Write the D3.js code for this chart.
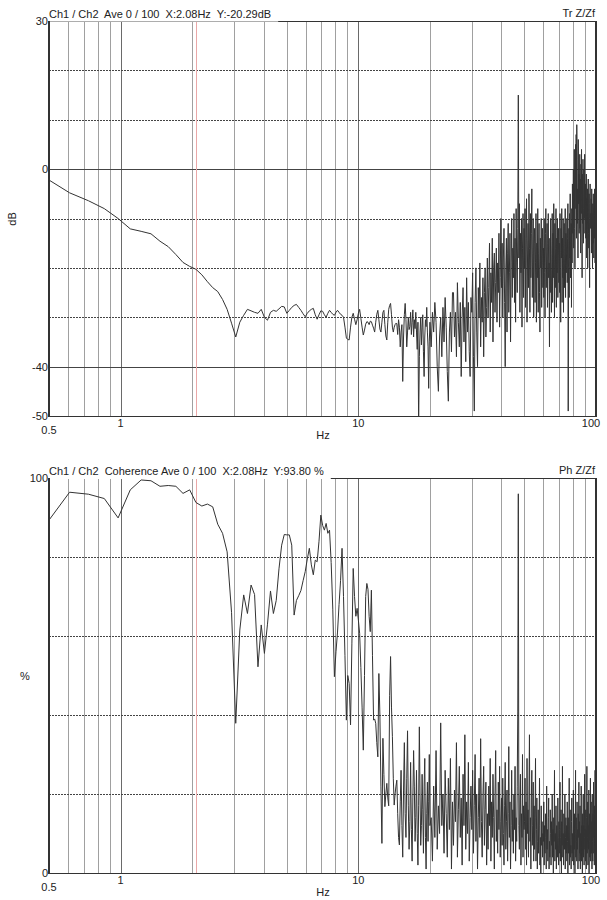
<!DOCTYPE html>
<html>
<head>
<meta charset="utf-8">
<script src="https://cdn.jsdelivr.net/npm/d3@7"></script>
<style>
  body { margin: 0; background: #fff; }
  svg { display: block; font-family: "Liberation Sans", Arial, sans-serif; font-size: 11px; }
  text { white-space: pre; fill: #222; }
</style>
</head>
<body>
<svg id="chart" width="607" height="900"></svg>
<script>
// FFT line spacing and which lines are plotted
const DF = 1000 / 8192;                 // Hz per line
const LOW_BIN0 = 4;                     // lines 4..164 (0.49 - 20 Hz), every line
const HIGH_BIN0 = 166, HIGH_STEP = 2;   // lines 166..820 (20 - 100 Hz), every 2nd line
const CURSOR_BIN = 17;                  // 2.08 Hz

// transfer magnitude, dB
const magLow = [
  -1.9, -4.8, -6.4, -8.0, -10.0, -12.1, -12.6, -13.1, -14.6, -15.7,
  -17.3, -18.9, -19.7, -20.29, -21.4, -22.8, -24.0, -24.8, -26.4, -28.4,
  -31.2, -34.0, -31.0, -29.6, -28.4, -28.7, -29.0, -29.2, -28.4, -30.0,
  -30.6, -29.0, -28.6, -28.8, -28.3, -27.8, -27.9, -29.2, -28.6, -28.0,
  -27.6, -27.4, -28.0, -28.6, -29.3, -29.9, -29.2, -28.7, -28.4, -28.2,
  -29.5, -30.4, -29.5, -28.7, -28.8, -29.5, -30.0, -29.2, -28.6, -29.0,
  -29.4, -29.6, -29.0, -28.6, -29.0, -29.4, -29.6, -30.0, -32.0, -34.2,
  -34.5, -34.6, -32.0, -30.0, -29.2, -30.4, -31.5, -30.5, -29.2, -28.4,
  -30.2, -32.0, -33.6, -32.6, -31.4, -30.9, -31.0, -31.5, -30.8, -30.9,
  -31.6, -32.2, -33.0, -31.0, -29.4, -28.6, -30.5, -32.4, -33.0, -31.0,
  -29.0, -28.6, -31.5, -33.8, -34.6, -31.0, -28.4, -27.6, -27.2, -29.5,
  -32.0, -33.0, -32.0, -31.5, -31.2, -31.3, -33.5, -30.5, -32.0, -36.0,
  -33.0, -31.5, -43.0, -34.0, -29.5, -27.2, -30.5, -36.0, -33.0, -30.0,
  -32.5, -31.9, -29.0, -33.5, -31.0, -28.5, -34.0, -30.5, -32.3, -29.0,
  -33.0, -36.5, -31.0, -52.0, -38.0, -33.0, -30.0, -35.6, -32.0, -29.5,
  -37.0, -42.0, -34.0, -30.5, -31.9, -28.0, -33.0, -36.0, -44.4, -35.0,
  -31.0
];
const magHigh = [
  // 20-25 Hz
  -36, -29, -33, -27, -31, -40, -45, -34, -30, -38, -28, -35, -26, -32, -41, -47, -33, -29, -37, -25,
  // 25-30 Hz
  -25, -34, -29, -38, -23, -31, -36, -27, -42, -30, -24, -35, -28, -39, -22, -33, -27, -37, -42, -26,
  // 30-35 Hz
  -29, -21, -38, -49, -27, -20, -33, -40, -24, -30, -19, -36, -26, -31, -22, -38, -25, -20, -34, -28,
  // 35-40 Hz
  -18, -30, -24, -15, -33, -21, -27, -14, -35, -20, -17, -29, -23, -16, -31, -19, -25, -13, -32, -22, -10,
  // 40-45 Hz
  -24, -15, -30, -18, -12, -27, -40, -20, -14, -33, -17, -11, -29, -21, -13, -35, -19, -10, -26, -16,
  // 45-50 Hz
  -22, -9, -27, -14, -31, -8, -19, -25, -12, 15, -18, -7, -29, -13, -21, -10, -32, -16, -9, -26, -12,
  // 50-55 Hz
  -20, -8, -28, -14, -6, -31, -18, -11, -24, -5, -16, -29, -9, -22, -13, -4, -26, -17, -10, -30, -15,
  // 55-60 Hz
  -12, -27, -19, -9, -31, -15, -22, -8, -29, -17, -11, -25, -33, -14, -20, -10, -28, -18, -12, -24,
  // 60-65 Hz
  -16, -26, -10, -21, -30, -13, -8, -24, -18, -11, -28, -15, -9, -22, -19, -36, -14, -25, -10, -20, -29,
  // 65-70 Hz
  -17, -9, -27, -13, -22, -7, -19, -30, -11, -24, -16, -8, -28, -14, -21, -10, -26, -18, -12, -23,
  // 70-75 Hz
  -15, -25, -9, -20, -31, -12, -18, -8, -27, -14, -22, -10, -29, -16, -11, -24, -19, -8, -26, -13, -21,
  // 75-80 Hz
  -17, -10, -23, -14, -7, -49, -20, -12, -26, -9, -18, -5, -22, -15, -11, -28, -8, -19, -3, -13,
  // 80-85 Hz
  -10, 0, -16, -6, 4, -12, -20, -3, 5, -8, 7, -14, 9, 2, -11, -4, -18, 6, -7, -1, -13,
  // 85-90 Hz
  -5, 3, -12, -2, -17, 1, -9, 4, -6, -22, -1, -11, 2, -8, -15, 0, -4, -10, 3, -13,
  // 90-95 Hz
  -7, -3, -14, -9, -1, -18, -6, -11, -4, -20, -8, -2, -13, -16, -5, -10, -24, -7, -3, -12, -9,
  // 95-100 Hz
  -11, -6, -17, -4, -13, -9, -20, -7, -15, -5, -12, -18, -8, -14, -4, -10, -19, -6, -12, -9, -7
];

// coherence, %
const cohLow = [
  88.5, 96.4, 95.9, 94.8, 89.9, 97.0, 99.5, 99.3, 97.9, 98.1,
  97.9, 96.1, 97.0, 93.8, 92.9, 93.4, 92.7, 88.3, 86.0, 81.3,
  66.0, 37.9, 61.5, 70.4, 65.7, 72.9, 70.5, 52.2, 62.8, 55.6,
  63.0, 71.4, 65.7, 69.0, 77.0, 83.0, 85.7, 85.6, 85.6, 83.0,
  65.3, 69.0, 70.2, 71.5, 74.0, 76.3, 79.5, 82.2, 78.0, 75.5,
  79.2, 78.8, 84.0, 90.6, 88.0, 86.8, 88.5, 86.0, 86.8, 78.6,
  66.8, 49.7, 56.0, 61.0, 68.0, 74.0, 82.2, 70.0, 55.0, 38.7,
  50.0, 48.0, 37.5, 58.0, 77.1, 70.0, 65.0, 67.0, 64.0, 60.7,
  52.0, 42.0, 31.1, 50.0, 70.0, 73.3, 71.8, 65.0, 61.1, 71.6,
  55.0, 38.7, 39.0, 37.9, 33.0, 29.4, 50.5, 40.0, 22.0, 7.5,
  34.1, 25.0, 16.8, 20.0, 22.7, 19.0, 17.0, 45.0, 54.8, 42.0,
  34.5, 24.0, 17.2, 20.0, 22.0, 23.5, 15.0, 9.0, 7.1, 18.0,
  26, 12, 4, 21, 33, 15, 9, 24, 36, 17,
  6, 13, 28, 11, 3, 19, 31, 22, 8, 14,
  26, 10, 2, 17, 37, 20, 7, 12, 25, 16,
  5, 22, 29, 9, 1, 15, 23, 8, 18, 30,
  12
];
const cohHigh = [
  // 20-25 Hz
  14, 3, 22, 9, 31, 6, 17, 10, 38, 12, 20, 5, 26, 15, 4, 24, 11, 29, 1, 18,
  // 25-30 Hz
  7, 21, 13, 33, 4, 16, 27, 9, 19, 2, 25, 12, 35, 6, 18, 10, 28, 3, 14, 22,
  // 30-35 Hz
  11, 26, 5, 17, 30, 8, 20, 1, 14, 24, 9, 34, 13, 4, 19, 27, 7, 16, 23, 2,
  // 35-40 Hz
  15, 6, 22, 12, 29, 3, 18, 9, 25, 14, 1, 20, 31, 8, 16, 5, 23, 11, 27, 4, 13,
  // 40-45 Hz
  19, 7, 24, 10, 2, 17, 28, 6, 13, 21, 3, 15, 32, 9, 18, 1, 12, 26, 8, 16,
  // 45-50 Hz
  5, 20, 11, 27, 3, 14, 8, 22, 41, 96, 12, 6, 19, 25, 2, 15, 9, 30, 4, 17, 11,
  // 50-55 Hz
  13, 24, 6, 18, 2, 29, 10, 16, 4, 21, 35, 8, 14, 1, 19, 26, 7, 12, 23, 3, 17,
  // 55-60 Hz
  6, 14, 29, 3, 11, 19, 1, 8, 16, 5, 12, 24, 2, 9, 0, 17, 7, 13, 4, 10,
  // 60-65 Hz
  8, 18, 2, 12, 5, 15, 9, 1, 22, 6, 11, 3, 14, 19, 1, 8, 4, 16, 10, 2, 13,
  // 65-70 Hz
  7, 20, 4, 11, 0, 14, 8, 26, 3, 10, 6, 17, 1, 12, 7, 4, 19, 9, 2, 13,
  // 70-75 Hz
  5, 11, 23, 3, 9, 16, 0, 13, 7, 27, 4, 10, 2, 15, 11, 6, 20, 1, 9, 14, 5,
  // 75-80 Hz
  12, 3, 18, 8, 0, 14, 5, 11, 24, 2, 9, 16, 4, 7, 1, 13, 19, 5, 10, 3,
  // 80-85 Hz
  9, 21, 2, 12, 6, 15, 0, 10, 26, 4, 14, 8, 3, 18, 6, 11, 1, 15, 9, 23, 3,
  // 85-90 Hz
  13, 5, 17, 1, 10, 7, 22, 3, 12, 8, 0, 15, 6, 20, 4, 12, 2, 9, 25, 6,
  // 90-95 Hz
  11, 3, 16, 8, 1, 14, 27, 5, 9, 18, 2, 12, 6, 21, 0, 8, 15, 4, 11, 24, 3,
  // 95-100 Hz
  10, 18, 5, 13, 1, 20, 8, 3, 15, 9, 23, 5, 12, 2, 17, 7, 26, 4, 14, 8, 19
];

const xTickLabels = [0.5, 1, 10, 100];
const minorHz = [0.6, 0.7, 0.8, 0.9, 2, 3, 4, 5, 6, 7, 8, 9, 20, 30, 40, 50, 60, 70, 80, 90];
const decadeHz = [1, 10];

const svg = d3.select('#chart');
svg.append('rect').attr('width', 607).attr('height', 900).attr('fill', '#fff');

const x = d3.scaleLog().domain([0.5, 100]).range([49, 596]);
const px = v => Math.round(v) + 0.5;

function toPoints(low, high) {
  const pts = low.map((v, i) => [(LOW_BIN0 + i) * DF, v]);
  high.forEach((v, i) => pts.push([(HIGH_BIN0 + i * HIGH_STEP) * DF, v]));
  return pts;
}

function drawPanel(p) {
  const y = d3.scaleLinear().domain(p.yDomain).range([p.bottom, p.top]);
  const g = svg.append('g');

  g.append('clipPath').attr('id', 'clip-' + p.id)
    .append('rect')
    .attr('x', 49).attr('y', p.top)
    .attr('width', 547).attr('height', p.bottom - p.top);

  // vertical grid
  g.selectAll('line.vminor').data(minorHz).enter().append('line')
    .attr('x1', d => px(x(d))).attr('x2', d => px(x(d)))
    .attr('y1', p.top).attr('y2', p.bottom)
    .attr('stroke', '#a0a0a0');
  g.selectAll('line.vdec').data(decadeHz).enter().append('line')
    .attr('x1', d => px(x(d))).attr('x2', d => px(x(d)))
    .attr('y1', p.top).attr('y2', p.bottom)
    .attr('stroke', '#6a6a6a');

  // horizontal grid
  g.selectAll('line.hdot').data(p.dotted).enter().append('line')
    .attr('x1', 49).attr('x2', 596)
    .attr('y1', d => px(y(d))).attr('y2', d => px(y(d)))
    .attr('stroke', '#444').attr('stroke-dasharray', '2,1');
  g.selectAll('line.hsolid').data(p.solid).enter().append('line')
    .attr('x1', 49).attr('x2', 596)
    .attr('y1', d => px(y(d))).attr('y2', d => px(y(d)))
    .attr('stroke', '#444');

  // cursor
  g.append('line')
    .attr('x1', px(x(CURSOR_BIN * DF))).attr('x2', px(x(CURSOR_BIN * DF)))
    .attr('y1', p.top).attr('y2', p.bottom)
    .attr('stroke', '#eaa8a8');

  // trace
  const line = d3.line().x(d => x(d[0])).y(d => y(d[1]));
  g.append('path')
    .datum(toPoints(p.low, p.high))
    .attr('clip-path', `url(#clip-${p.id})`)
    .attr('fill', 'none')
    .attr('stroke', '#333')
    .attr('stroke-width', 1)
    .attr('d', line);

  // frame
  g.append('line').attr('x1', 49).attr('x2', 597).attr('y1', px(p.top)).attr('y2', px(p.top))
    .attr('stroke', '#333');
  g.append('line').attr('x1', 48).attr('x2', 597).attr('y1', px(p.bottom)).attr('y2', px(p.bottom))
    .attr('stroke', '#333');
  g.append('rect').attr('x', 48).attr('y', p.top).attr('width', 2).attr('height', p.bottom - p.top + 1)
    .attr('fill', '#333');
  g.append('rect').attr('x', 595).attr('y', p.top).attr('width', 2).attr('height', p.bottom - p.top + 1)
    .attr('fill', '#333');

  // title with its white box
  const titleBox = g.append('rect').attr('fill', '#fff').attr('fill-opacity', p.titleBoxOpacity);
  const title = g.append('text').attr('x', 49).attr('y', p.top - 3).text(p.title);
  const tw = title.node().getComputedTextLength();
  titleBox.attr('x', 50).attr('y', p.top - 14).attr('width', tw + 6).attr('height', 15);
  title.raise();

  g.append('text').attr('x', 595).attr('y', p.top - 4)
    .attr('text-anchor', 'end').text(p.tag);

  // y labels
  g.selectAll('text.ylab').data(p.yLabels).enter().append('text')
    .attr('x', 48).attr('y', d => y(d) + 4)
    .attr('text-anchor', 'end')
    .text(d => d);

  // x labels
  g.selectAll('text.xlab').data(xTickLabels).enter().append('text')
    .attr('x', d => d === 100 ? x(d) - 5 : x(d))
    .attr('y', d => d === 0.5 ? p.bottom + 17.5 : p.bottom + 10.5)
    .attr('text-anchor', 'middle')
    .text(d => d);

  g.append('text').attr('x', 323).attr('y', p.bottom + 22.5)
    .attr('text-anchor', 'middle').text('Hz');

  const unit = g.append('text')
    .attr('text-anchor', 'middle')
    .text(p.unit);
  if (p.unitRotate) {
    unit.attr('transform', `translate(${p.unitX},${p.unitY}) rotate(-90)`);
  } else {
    unit.attr('x', p.unitX).attr('y', p.unitY);
  }
}

drawPanel({
  id: 'tr',
  top: 21, bottom: 416,
  yDomain: [-50, 30],
  dotted: [20, 10, -10, -20, -30],
  solid: [0, -40],
  yLabels: [30, 0, -40, -50],
  low: magLow, high: magHigh,
  title: 'Ch1 / Ch2  Ave 0 / 100  X:2.08Hz  Y:-20.29dB',
  tag: 'Tr Z/Zf',
  titleBoxOpacity: 0.6,
  unit: 'dB', unitRotate: true, unitX: 16, unitY: 219
});

drawPanel({
  id: 'ph',
  top: 478, bottom: 873,
  yDomain: [0, 100],
  dotted: [80, 60, 40, 20],
  solid: [],
  yLabels: [100, 0],
  low: cohLow, high: cohHigh,
  title: 'Ch1 / Ch2  Coherence Ave 0 / 100  X:2.08Hz  Y:93.80 %',
  tag: 'Ph Z/Zf',
  titleBoxOpacity: 1,
  unit: '%', unitRotate: false, unitX: 25, unitY: 680
});
</script>
</body>
</html>
